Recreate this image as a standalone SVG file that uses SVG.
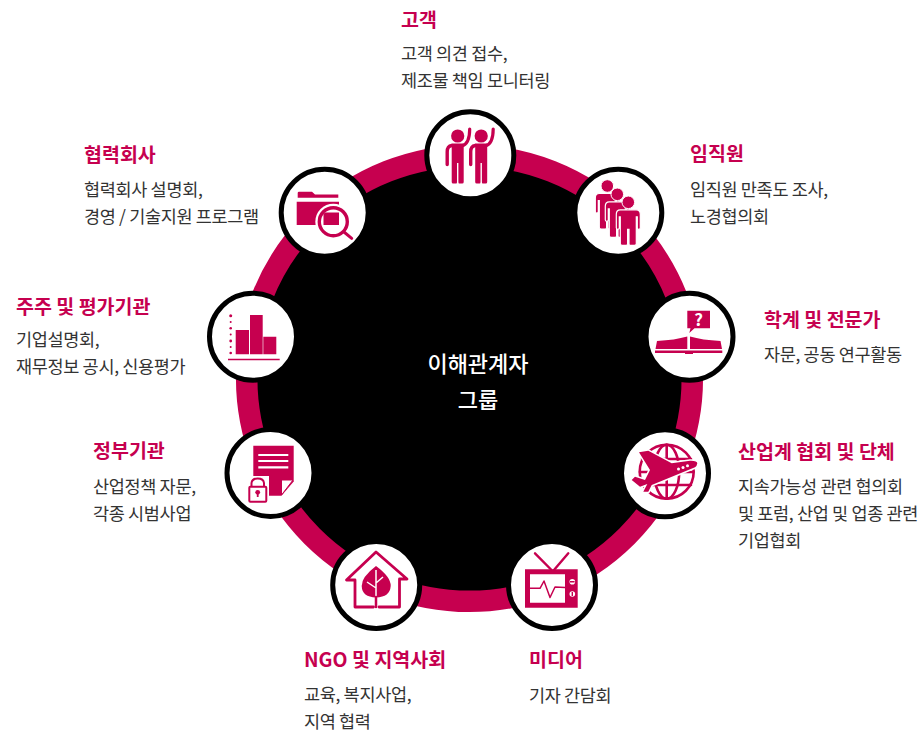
<svg xmlns="http://www.w3.org/2000/svg" width="923" height="736" viewBox="0 0 923 736">
<style>
text{font-family:"Noto Sans CJK KR","Noto Sans",sans-serif}
.t{font-size:19.500px;font-weight:700;fill:#c6004f;letter-spacing:0}
.b{font-size:17.500px;font-weight:400;fill:#333;letter-spacing:-.34px}
.c{font-size:22px;font-weight:500;fill:#fff;text-anchor:middle}
.n{fill:#fff;stroke:#000;stroke-width:5}
.f{fill:#c6004f}
.s{fill:none;stroke:#c6004f;stroke-linecap:round;stroke-linejoin:round}
.w{fill:none;stroke:#fff}
</style>
<defs>
<g id="wave"><circle cx="0" cy="0" r="6.600" class="f"/><path class="f" d="M-6 7.500H6V46Q6 47.500 4.500 47.500H1.500Q.7 47.500 .7 46V27H-.7V46Q-.7 47.500-1.500 47.500H-4.500Q-6 47.500-6 46Z"/><path class="s" stroke-width="3.400" d="M-6 9.500Q-10.500 10-10.500 16V28.500"/><path class="s" stroke-width="3.200" d="M4 10Q12 8 12-7"/></g>
<g id="man"><circle cx="0" cy="0" r="6.300" class="f" stroke="#fff" stroke-width="1"/><path class="f" stroke="#fff" stroke-width="1.200" d="M-8 7.500H8Q12 7.500 12 12V25.500Q12 27 10.500 27T9 25.500V14.500H8V41.500Q8 43 6 43H2Q.7 43 .7 41.500V27H-.7V41.500Q-.7 43-2 43H-6Q-8 43-8 41.500V14.500H-9V25.500Q-9 27-10.500 27T-12 25.500V12Q-12 7.500-8 7.500Z"/></g>
</defs>
<g id="connectors">
<circle cx="469.500" cy="378.500" r="222.800" fill="#000" stroke="#c6004f" stroke-width="21.500"/>
</g>
<g id="center"><text class="c" x="478" y="372">이해관계자</text><text class="c" x="478" y="408">그룹</text></g>

<g id="customer"><circle class="n" cx="470.300" cy="155.300" r="43.500"/>
<use href="#wave" x="457.700" y="136"/><use href="#wave" x="481.200" y="136"/>
<text class="t" x="401" y="27">고객</text><text class="b" x="401" y="60">고객 의견 접수,</text><text class="b" x="401" y="87">제조물 책임 모니터링</text></g>

<g id="employee"><circle class="n" cx="618.300" cy="212.700" r="43.500"/>
<use href="#man" x="607.300" y="186"/><use href="#man" x="617.300" y="194.300"/><use href="#man" x="628.300" y="202.300"/>
<text class="t" x="690" y="161">임직원</text><text class="b" x="690" y="196">임직원 만족도 조사,</text><text class="b" x="690" y="223">노경협의회</text></g>

<g id="academia"><circle class="n" cx="689.500" cy="336.700" r="43.500"/>
<path class="f" d="M687.300 310.700H710V328.300H694.500L689.300 333L690.500 328.300H687.300Z"/>
<text x="698.500" y="326" font-size="17" font-weight="700" fill="#fff" text-anchor="middle">?</text>
<path class="f" d="M657 341Q675 340 687.300 336.500V349H655.500ZM720.500 341Q702 340 690 336.500V349H722Z"/>
<path class="f" d="M655 350.500H722.300V353H693V354H685V353H655Z"/>
<text class="t" x="764" y="327">학계 및 전문가</text><text class="b" x="764" y="361">자문, 공동 연구활동</text></g>

<g id="industry"><circle class="n" cx="665" cy="473.300" r="43.500"/>
<g class="s" stroke-width="2.600"><circle cx="666.700" cy="471.700" r="27"/><ellipse cx="666.700" cy="471.700" rx="12.500" ry="27"/><path d="M666.700 444.700V498.700M642 459H691M640 472H693M642 485H691"/></g>
<path class="f" stroke="#fff" stroke-width="3" paint-order="stroke" d="M639 452.300L648.300 450.700L671.700 463.300L690 460.700Q697.300 460.500 697.300 463.300Q697 466 695 467.300L651.700 485L648.300 491.700H643.300L647.300 484L640 486.700L631.700 480L635 476.700L645 480L650 470Z"/>
<circle cx="678.500" cy="469" r="1.500" fill="#fff"/><circle cx="683" cy="467.500" r="1.500" fill="#fff"/><circle cx="687.500" cy="465.700" r="1.500" fill="#fff"/>
<text class="t" x="738" y="459">산업계 협회 및 단체</text><text class="b" x="738" y="493">지속가능성 관련 협의회</text><text class="b" x="738" y="520">및 포럼, 산업 및 업종 관련</text><text class="b" x="738" y="547">기업협회</text></g>

<g id="media"><circle class="n" cx="552" cy="585" r="43.500"/>
<path class="f" d="M525 569.300H577.700V607.700H525Z"/>
<path d="M530 574.300H565V602.700H530Z" fill="#fff"/>
<path class="s" stroke-width="2.400" d="M535 553.300L551.500 570M568.300 553.300L554 570"/>
<path class="s" stroke-width="1.500" d="M530 588.300H540L544 581L550 597.500L555 587L565 587.500"/>
<circle cx="572.300" cy="581.700" r="2.800" fill="#fff"/><circle cx="572.300" cy="594" r="2.800" fill="#fff"/>
<path class="f" d="M570 581H574.600V582.400H570ZM571.600 592H573V596H571.600Z"/>
<text class="t" x="529" y="667">미디어</text><text class="b" x="529" y="702">기자 간담회</text></g>

<g id="ngo"><circle class="n" cx="376.200" cy="585" r="43.500"/>
<path class="s" stroke-width="2.800" d="M373.500 607H355V580H346.500L376 552L407 579H399.500V607H379"/>
<path class="f" d="M376 566Q391 577 390.700 586Q390 597 376 597.500Q362 597 361.700 586Q361.500 577 376 566Z"/>
<path class="w" stroke-width="1.500" d="M376 570V597M376 588L367 582M376 583L383 577"/>
<path class="s" stroke-width="2.500" d="M376 597V607"/>
<text class="t" x="304" y="667">NGO 및 지역사회</text><text class="b" x="304" y="701">교육, 복지사업,</text><text class="b" x="304" y="728">지역 협력</text></g>

<g id="government"><circle class="n" cx="270.500" cy="473" r="43.500"/>
<path class="f" d="M253.300 445.700H293.700V481.500L281.500 495.700H253.300Z"/>
<path class="w" stroke-width="2.200" d="M258.300 455H288.300M258.300 461H288.300M258.300 467.300H288.300"/>
<path d="M281.500 480H293L281.500 495Z" fill="#fff" stroke="#c6004f" stroke-width="1"/>
<rect x="247" y="476" width="22" height="28" fill="#fff"/>
<rect x="249.300" y="486.700" width="17" height="15" rx="1" fill="#fff" stroke="#c6004f" stroke-width="2"/>
<path class="s" stroke-width="2" d="M251.500 486V483Q252 478.500 257.700 478.500Q263.500 478.500 264 483V486"/>
<circle cx="257.700" cy="492.300" r="2.400" class="f"/><path class="f" d="M256.800 492.500H258.600V497H256.800Z"/>
<text class="t" x="93" y="458">정부기관</text><text class="b" x="93" y="493">산업정책 자문,</text><text class="b" x="93" y="520">각종 시범사업</text></g>

<g id="shareholder"><circle class="n" cx="253" cy="336.700" r="43.500"/>
<path class="f" d="M235.700 330H249V354.300H235.700ZM250 315H262.700V354.300H250ZM263.300 336.700H276.300V354.300H263.300ZM228 358.700H279.700V360.300H228Z"/>
<g class="f"><circle cx="230.700" cy="315.700" r="1.500"/><circle cx="230.700" cy="322" r="1"/><circle cx="230.700" cy="328.200" r="1.300"/><circle cx="230.700" cy="334.500" r="1"/><circle cx="230.700" cy="341" r="1.400"/><circle cx="230.700" cy="347" r="1"/><circle cx="230.700" cy="353" r="1.300"/></g>
<text class="t" x="16" y="314">주주 및 평가기관</text><text class="b" x="16" y="346">기업설명회,</text><text class="b" x="16" y="373">재무정보 공시, 신용평가</text></g>

<g id="partner"><circle class="n" cx="324.700" cy="212.800" r="43.500"/>
<path class="f" d="M297.700 193Q297.700 191.700 299 191.700H312L315 194.500H338.300V197.700H297.700ZM296.700 201.700H339V225H296.700Z"/>
<circle cx="333.300" cy="221.700" r="18" fill="#fff"/>
<path class="f" d="M325 212.500H339V225H323.500V214Z"/>
<circle cx="333.300" cy="221.700" r="14" fill="none" stroke="#c6004f" stroke-width="3.400"/>
<path class="s" stroke-width="3" d="M344 232L351.700 238.300"/>
<text class="t" x="84" y="162">협력회사</text><text class="b" x="84" y="196">협력회사 설명회,</text><text class="b" x="84" y="223">경영 / 기술지원 프로그램</text></g>
</svg>
